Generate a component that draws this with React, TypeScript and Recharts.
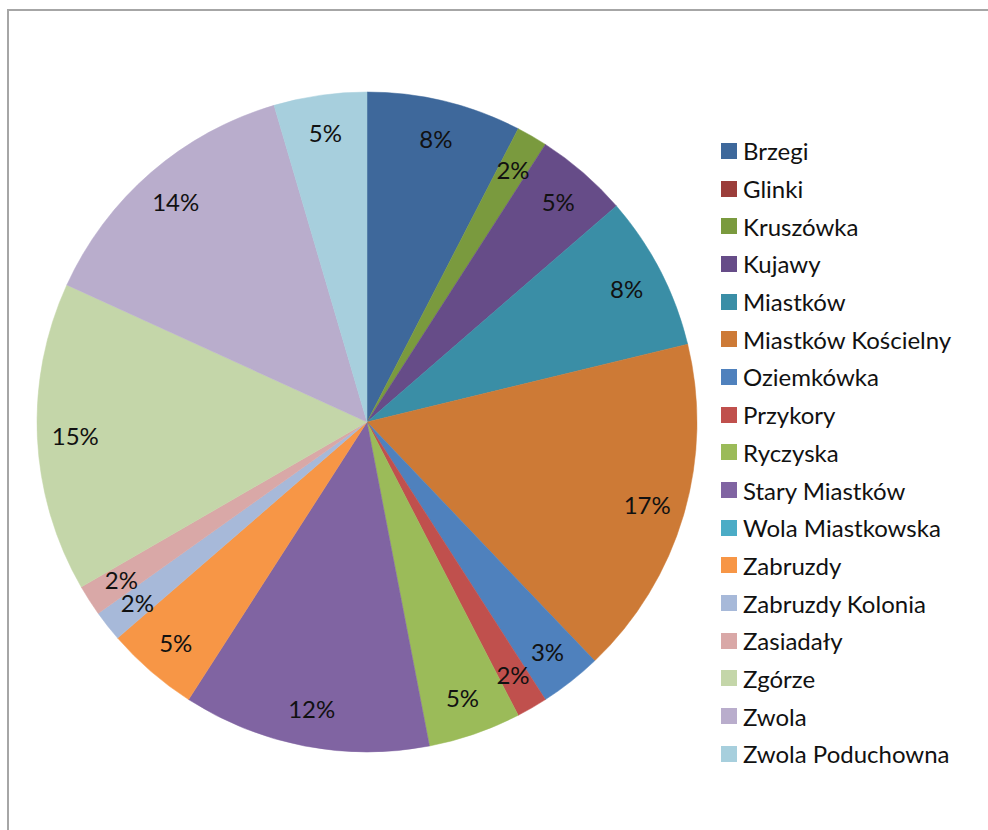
import { PieChart, Pie, Cell, Legend } from 'recharts'

const villages = [
  'Brzegi',
  'Glinki',
  'Kruszówka',
  'Kujawy',
  'Miastków',
  'Miastków Kościelny',
  'Oziemkówka',
  'Przykory',
  'Ryczyska',
  'Stary Miastków',
  'Wola Miastkowska',
  'Zabruzdy',
  'Zabruzdy Kolonia',
  'Zasiadały',
  'Zgórze',
  'Zwola',
  'Zwola Poduchowna',
]

// counts per village
const counts = [5, 0, 1, 3, 5, 11, 2, 1, 3, 8, 0, 3, 1, 1, 10, 9, 3]

const colors = [
  '#3E689B', '#9B3D3A', '#7A9A3E', '#664C88', '#3A8EA6', '#CD7A36',
  '#4F81BD', '#C0504D', '#9BBB59', '#8064A2', '#4BACC6', '#F79646',
  '#A7B9D9', '#D9A8A7', '#C4D6A9', '#B9ADCC', '#A7CFDD',
]

const data = villages.map((name, i) => ({ name, value: counts[i] }))

const FONT = 'Lato, "DejaVu Sans", sans-serif'
const RAD = Math.PI / 180

const renderLabel = (props: any) => {
  const { cx, cy, midAngle, outerRadius, percent, value } = props
  if (!value) return null
  const r = outerRadius * 0.885
  const x = cx + r * Math.cos(-midAngle * RAD)
  const y = cy + r * Math.sin(-midAngle * RAD)
  return (
    <text
      x={x}
      y={y}
      textAnchor="middle"
      dominantBaseline="central"
      fill="#111"
      fontSize={24}
      fontFamily={FONT}
    >
      {`${Math.round(percent * 100)}%`}
    </text>
  )
}

const LegendList = () => (
  <div style={{ fontFamily: FONT, fontSize: 24, color: '#111' }}>
    {villages.map((name, i) => (
      <div key={name} style={{ display: 'flex', alignItems: 'center', height: 37.7 }}>
        <span
          style={{
            display: 'inline-block',
            width: 16,
            height: 16,
            background: colors[i],
            marginRight: 6,
          }}
        />
        <span>{name}</span>
      </div>
    ))}
  </div>
)

export default function App() {
  return (
    <div
      style={{
        position: 'absolute',
        left: 7,
        top: 9,
        width: 981,
        height: 821,
        boxSizing: 'border-box',
        borderTop: '2px solid #A6A6A6',
        borderLeft: '2px solid #A6A6A6',
        background: '#fff',
      }}
    >
      <PieChart width={979} height={819} margin={{ top: 0, right: 0, bottom: 0, left: 0 }}>
        <Pie
          data={data}
          dataKey="value"
          nameKey="name"
          cx={358}
          cy={411}
          outerRadius={330}
          startAngle={90}
          endAngle={-270}
          label={renderLabel}
          labelLine={false}
          isAnimationActive={false}
        >
          {data.map((d, i) => (
            <Cell key={d.name} fill={colors[i]} stroke={colors[i]} strokeWidth={0.5} />
          ))}
        </Pie>
        <Legend
          layout="vertical"
          align="right"
          verticalAlign="top"
          content={<LegendList />}
          wrapperStyle={{ left: 712, top: 121, width: 265 }}
        />
      </PieChart>
    </div>
  )
}
